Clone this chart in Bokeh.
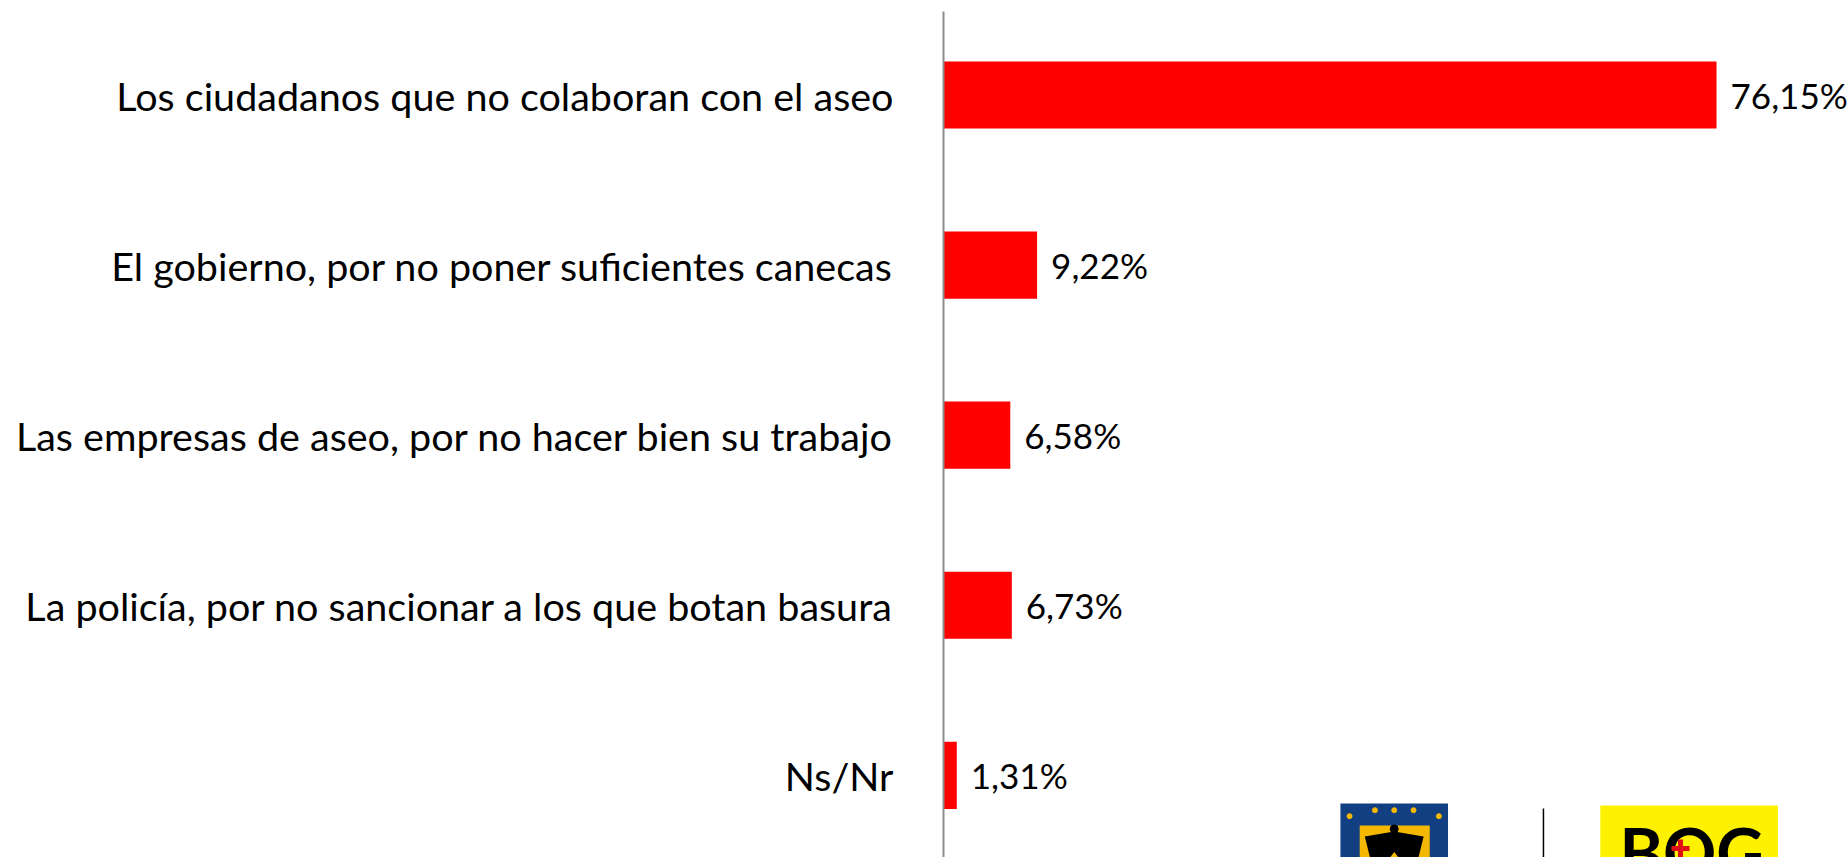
from bokeh.plotting import figure
from bokeh.models import Range1d, FixedTicker, ColumnDataSource
from bokeh.core.properties import value
from bokeh.embed import file_html
from bokeh.resources import INLINE

# ---- data ----
categories = [
    "Los ciudadanos que no colaboran con el aseo",
    "El gobierno, por no poner suficientes canecas",
    "Las empresas de aseo, por no hacer bien su trabajo",
    "La policía, por no sancionar a los que botan basura",
    "Ns/Nr",
]
values = [76.15, 9.22, 6.58, 6.73, 1.31]

FONT = "Lato"
positions = list(range(len(categories) - 1, -1, -1))  # top first
labels = [f"{v:.2f}".replace(".", ",") + "%" for v in values]

src = ColumnDataSource(dict(y=positions, v=values, lab=labels))

p = figure(width=1848, height=857, output_backend="svg", toolbar_location=None,
           x_range=Range1d(0, 89.15), y_range=Range1d(-0.483, 4.491),
           min_border_left=943, min_border_right=0, min_border_top=11, min_border_bottom=0)
p.outline_line_color = None
p.grid.visible = False
p.xaxis.visible = False

p.hbar(y="y", right="v", left=0, height=0.395, source=src, color="#FF0000", line_color=None)
p.text(x="v", y="y", text="lab", source=src, x_offset=14, text_baseline="middle",
       text_align="left", text_font=value(FONT), text_font_size="35px", text_color="#000000")

ya = p.yaxis[0]
ya.ticker = FixedTicker(ticks=positions)
ya.major_label_overrides = {pos: cat for pos, cat in zip(positions, categories)}
ya.major_tick_line_color = None
ya.minor_tick_line_color = None
ya.axis_line_color = "#8c8c8c"
ya.axis_line_width = 2
ya.major_label_standoff = 44
ya.major_label_text_font = FONT
ya.major_label_text_font_size = "39.5px"
ya.major_label_text_color = "#000000"

# ---- decorative logos (bottom right) ----
# coat of arms
p.quad(left=[39.1], right=[49.7], top=[-0.165], bottom=[-0.6], color="#123f82", line_color=None)
p.quad(left=[41.0], right=[47.9], top=[-0.295], bottom=[-0.6], color="#f5b800", line_color=None)
p.patch(x=[41.5, 44.4, 47.3, 46.3, 44.4, 42.5], y=[-0.36, -0.33, -0.36, -0.6, -0.45, -0.6],
        color="#000000", line_color=None)
p.scatter(x=[44.4], y=[-0.315], size=8, color="#000000")
p.scatter(x=[40.0, 48.8, 42.5, 44.4, 46.3], y=[-0.24, -0.24, -0.205, -0.205, -0.205],
          size=5, color="#f5b800")
# separator
p.segment(x0=[59.1], x1=[59.1], y0=[-0.195], y1=[-0.6], line_color="#000000", line_width=1.5)
# yellow box
p.quad(left=[64.7], right=[82.2], top=[-0.177], bottom=[-0.6], color="#FFF200", line_color=None)
p.text(x=[66.6], y=[-0.45], text=["BOG"], text_font=value(FONT), text_font_style="bold",
       text_font_size="66px", text_color="#000000", text_baseline="alphabetic",
       text_align="left")
p.scatter(x=[72.6], y=[-0.43], marker="cross", size=18, line_width=5, line_color="#e01010")

open("out.html", "w").write(file_html(p, INLINE))
